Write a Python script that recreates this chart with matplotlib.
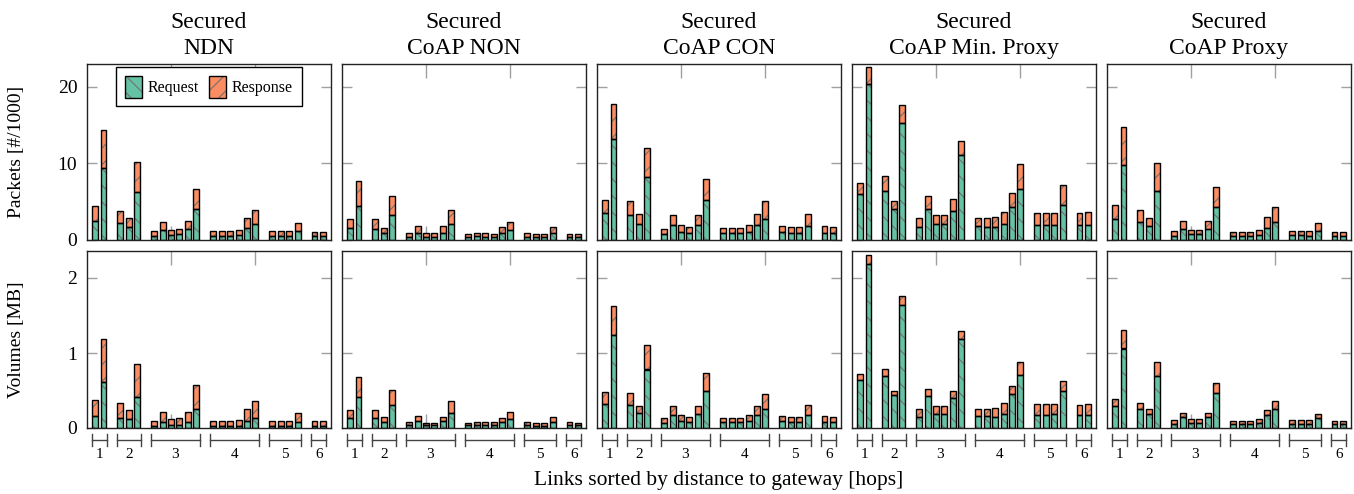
import numpy as np
import matplotlib
matplotlib.use("Agg")
import matplotlib.pyplot as plt
import matplotlib.transforms as mtransforms
from matplotlib.patches import Patch

plt.rcParams["font.family"] = ["Liberation Serif", "DejaVu Serif"]
plt.rcParams["hatch.linewidth"] = 0.8

# Panels and groups (links sorted by hop distance)
titles = ["Secured\nNDN", "Secured\nCoAP NON", "Secured\nCoAP CON",
          "Secured\nCoAP Min. Proxy", "Secured\nCoAP Proxy"]
hop_labels = ["1", "2", "3", "4", "5", "6"]
group_sizes = [2, 3, 6, 6, 4, 2]

# Packets [#/1000]: request part and total (request + response)
ndn_pkt_req = [2.52, 9.35, 2.17, 1.65, 6.22, 0.52, 1.30, 0.65, 0.74, 1.39, 4.00,
               0.57, 0.57, 0.57, 0.61, 1.57, 2.13, 0.57, 0.57, 0.57, 1.17, 0.52, 0.52]
ndn_pkt_tot = [4.43, 14.35, 3.74, 2.83, 10.13, 1.13, 2.39, 1.30, 1.43, 2.52, 6.61,
               1.13, 1.13, 1.13, 1.30, 2.87, 3.91, 1.13, 1.13, 1.13, 2.26, 1.04, 1.04]
non_pkt_req = [1.52, 4.48, 1.48, 0.87, 3.22, 0.43, 0.96, 0.43, 0.43, 0.91, 2.13,
               0.43, 0.48, 0.43, 0.43, 0.87, 1.26, 0.43, 0.35, 0.35, 0.87, 0.43, 0.43]
non_pkt_tot = [2.74, 7.65, 2.74, 1.61, 5.74, 0.91, 1.83, 0.87, 0.87, 1.78, 3.91,
               0.83, 0.96, 0.87, 0.83, 1.65, 2.39, 0.87, 0.78, 0.78, 1.65, 0.83, 0.83]
con_pkt_req = [3.48, 13.13, 3.26, 2.13, 8.17, 0.74, 1.91, 1.09, 0.96, 2.00, 5.17,
               0.87, 0.87, 0.91, 1.04, 1.91, 2.78, 1.04, 0.91, 0.91, 1.83, 0.91, 0.87]
con_pkt_tot = [5.17, 17.70, 5.04, 3.35, 12.04, 1.43, 3.22, 1.91, 1.70, 3.26, 8.00,
               1.52, 1.52, 1.61, 1.91, 3.35, 5.04, 1.87, 1.74, 1.65, 3.43, 1.78, 1.65]
minp_pkt_req = [6.00, 20.35, 6.43, 4.00, 15.22, 1.65, 4.04, 2.04, 2.04, 3.78, 11.04,
                1.78, 1.74, 1.65, 2.04, 4.26, 6.61, 1.96, 1.96, 2.00, 4.57, 1.96, 1.96]
minp_pkt_tot = [7.43, 22.52, 8.35, 5.04, 17.57, 2.87, 5.70, 3.22, 3.30, 5.30, 12.91,
                2.87, 2.87, 2.96, 3.70, 6.09, 9.87, 3.57, 3.57, 3.57, 7.13, 3.48, 3.65]
prox_pkt_req = [2.78, 9.78, 2.35, 1.78, 6.39, 0.57, 1.39, 0.74, 0.74, 1.39, 4.35,
                0.57, 0.57, 0.52, 0.65, 1.61, 2.35, 0.61, 0.61, 0.57, 1.22, 0.52, 0.52]
prox_pkt_tot = [4.52, 14.70, 3.91, 2.91, 10.09, 1.13, 2.48, 1.35, 1.35, 2.43, 6.87,
                1.09, 1.09, 1.09, 1.35, 2.96, 4.30, 1.22, 1.22, 1.13, 2.26, 1.04, 1.04]

# Volumes [MB]: request part and total
ndn_vol_req = [0.16, 0.61, 0.14, 0.12, 0.41, 0.03, 0.08, 0.04, 0.04, 0.08, 0.26,
               0.03, 0.03, 0.03, 0.03, 0.10, 0.14, 0.03, 0.03, 0.03, 0.08, 0.03, 0.03]
ndn_vol_tot = [0.38, 1.19, 0.33, 0.24, 0.86, 0.10, 0.21, 0.12, 0.13, 0.22, 0.57,
               0.10, 0.10, 0.10, 0.11, 0.25, 0.36, 0.10, 0.10, 0.10, 0.20, 0.10, 0.10]
non_vol_req = [0.14, 0.42, 0.14, 0.08, 0.31, 0.04, 0.09, 0.04, 0.04, 0.09, 0.20,
               0.04, 0.04, 0.04, 0.04, 0.08, 0.12, 0.04, 0.03, 0.03, 0.08, 0.04, 0.04]
non_vol_tot = [0.24, 0.68, 0.24, 0.15, 0.51, 0.08, 0.16, 0.07, 0.07, 0.15, 0.36,
               0.07, 0.08, 0.08, 0.08, 0.14, 0.22, 0.08, 0.07, 0.07, 0.15, 0.08, 0.07]
con_vol_req = [0.32, 1.24, 0.31, 0.20, 0.78, 0.07, 0.18, 0.10, 0.08, 0.19, 0.49,
               0.08, 0.08, 0.08, 0.09, 0.18, 0.26, 0.09, 0.08, 0.08, 0.17, 0.08, 0.08]
con_vol_tot = [0.48, 1.62, 0.47, 0.30, 1.11, 0.13, 0.29, 0.17, 0.15, 0.30, 0.73,
               0.13, 0.13, 0.14, 0.17, 0.30, 0.45, 0.16, 0.15, 0.15, 0.31, 0.16, 0.15]
minp_vol_req = [0.64, 2.19, 0.69, 0.44, 1.64, 0.15, 0.43, 0.19, 0.19, 0.40, 1.19,
                0.16, 0.16, 0.15, 0.19, 0.46, 0.71, 0.18, 0.18, 0.19, 0.49, 0.18, 0.18]
minp_vol_tot = [0.72, 2.31, 0.79, 0.49, 1.76, 0.26, 0.52, 0.29, 0.30, 0.49, 1.29,
                0.26, 0.26, 0.27, 0.34, 0.56, 0.88, 0.32, 0.32, 0.32, 0.63, 0.31, 0.32]
prox_vol_req = [0.30, 1.06, 0.25, 0.19, 0.69, 0.05, 0.15, 0.07, 0.07, 0.15, 0.47,
                0.05, 0.05, 0.05, 0.07, 0.18, 0.26, 0.06, 0.06, 0.05, 0.13, 0.05, 0.05]
prox_vol_tot = [0.39, 1.30, 0.33, 0.25, 0.88, 0.11, 0.20, 0.12, 0.12, 0.20, 0.60,
                0.10, 0.10, 0.10, 0.12, 0.24, 0.36, 0.11, 0.11, 0.11, 0.19, 0.10, 0.10]

packets = [(ndn_pkt_req, ndn_pkt_tot), (non_pkt_req, non_pkt_tot), (con_pkt_req, con_pkt_tot),
           (minp_pkt_req, minp_pkt_tot), (prox_pkt_req, prox_pkt_tot)]
volumes = [(ndn_vol_req, ndn_vol_tot), (non_vol_req, non_vol_tot), (con_vol_req, con_vol_tot),
           (minp_vol_req, minp_vol_tot), (prox_vol_req, prox_vol_tot)]

REQ_COLOR = "#66c2a5"
RESP_COLOR = "#fc8d62"
HATCH_COLOR = "#707070"
TICK_COLOR = "#a0a0a0"

# bar positions: one empty slot between hop groups
positions = []
group_spans = []
x = 1
for n in group_sizes:
    group_spans.append((x, x + n - 1))
    positions.extend(range(x, x + n))
    x += n + 1
positions = np.array(positions)

W, H = 1354, 494
fig = plt.figure(figsize=(W / 100, H / 100), dpi=100)

col_left = [87, 342, 597, 852, 1107]
col_w = 244
rows = [(64, 240), (251, 428)]


def draw_panel(ax, req, tot, ylim, yticks):
    req = np.array(req)
    resp = np.array(tot) - req
    width = 0.7
    # hatched fills (gray hatch), then black outlines on top
    ax.bar(positions, req, width, color=REQ_COLOR, edgecolor=HATCH_COLOR,
           hatch="\\\\", linewidth=0, zorder=2)
    ax.bar(positions, resp, width, bottom=req, color=RESP_COLOR, edgecolor=HATCH_COLOR,
           hatch="//", linewidth=0, zorder=2)
    ax.bar(positions, req, width, color="none", edgecolor="black", linewidth=1.0, zorder=3)
    ax.bar(positions, resp, width, bottom=req, color="none", edgecolor="black",
           linewidth=1.0, zorder=3)
    ax.set_xlim(0.05, 28.95)
    ax.set_ylim(*ylim)
    ax.set_yticks(yticks)
    ax.set_xticks([10, 20])
    ax.tick_params(axis="y", direction="in", left=True, right=True, length=7,
                   width=1, color=TICK_COLOR, labelsize=14, pad=7)
    ax.tick_params(axis="x", direction="in", top=True, bottom=True, length=10,
                   width=1, color=TICK_COLOR, labelbottom=False)
    for s in ax.spines.values():
        s.set_linewidth(1.0)
        s.set_color("#222222")


axes = []
for r, (top, bottom) in enumerate(rows):
    row_axes = []
    for c in range(5):
        ax = fig.add_axes([col_left[c] / W, 1 - bottom / H, col_w / W, (bottom - top) / H])
        if r == 0:
            req, tot = packets[c]
            draw_panel(ax, req, tot, (0, 22.95), [0, 10, 20])
            ax.set_title(titles[c], fontsize=17, linespacing=1.35, pad=7)
        else:
            req, tot = volumes[c]
            draw_panel(ax, req, tot, (0, 2.36), [0, 1, 2])
        if c > 0:
            ax.set_yticklabels([])
        row_axes.append(ax)
    axes.append(row_axes)

axes[0][0].set_ylabel("Packets [#/1000]", fontsize=14)
axes[1][0].set_ylabel("Volumes [MB]", fontsize=14)
axes[0][0].yaxis.set_label_coords(-0.255, 0.5)
axes[1][0].yaxis.set_label_coords(-0.255, 0.5)

# legend in first panel
req_handle = (Patch(facecolor=REQ_COLOR, edgecolor=HATCH_COLOR, hatch="\\\\", linewidth=0),
              Patch(facecolor="none", edgecolor="black", linewidth=1.0))
resp_handle = (Patch(facecolor=RESP_COLOR, edgecolor=HATCH_COLOR, hatch="//", linewidth=0),
               Patch(facecolor="none", edgecolor="black", linewidth=1.0))
leg = axes[0][0].legend([req_handle, resp_handle], ["Request", "Response"], ncol=2,
                        loc="upper center", bbox_to_anchor=(0.5, 0.99), fontsize=11.5,
                        fancybox=False, framealpha=1, edgecolor="black",
                        handlelength=1.1, handleheight=1.7, handletextpad=0.35,
                        columnspacing=0.6, borderpad=0.55, borderaxespad=0.1)
leg.get_frame().set_linewidth(1.0)

# hop group brackets below the bottom row
for ax in axes[1]:
    trans = mtransforms.blended_transform_factory(ax.transData, ax.transAxes)
    for (a, b), lab in zip(group_spans, hop_labels):
        x0, x1 = a - 0.4, b + 0.4
        y0 = -0.068
        ax.plot([x0, x1], [y0, y0], color="#444444", lw=1, transform=trans, clip_on=False)
        for xe in (x0, x1):
            ax.plot([xe, xe], [y0 - 0.035, y0 + 0.035], color="#444444", lw=1,
                    transform=trans, clip_on=False)
        ax.text((a + b) / 2, -0.115, lab, transform=trans, ha="center", va="top",
                fontsize=11)

fig.text(719 / W, 1 - 480 / H, "Links sorted by distance to gateway [hops]",
         ha="center", va="center", fontsize=15.5)

fig.savefig("out.png", dpi=100)
